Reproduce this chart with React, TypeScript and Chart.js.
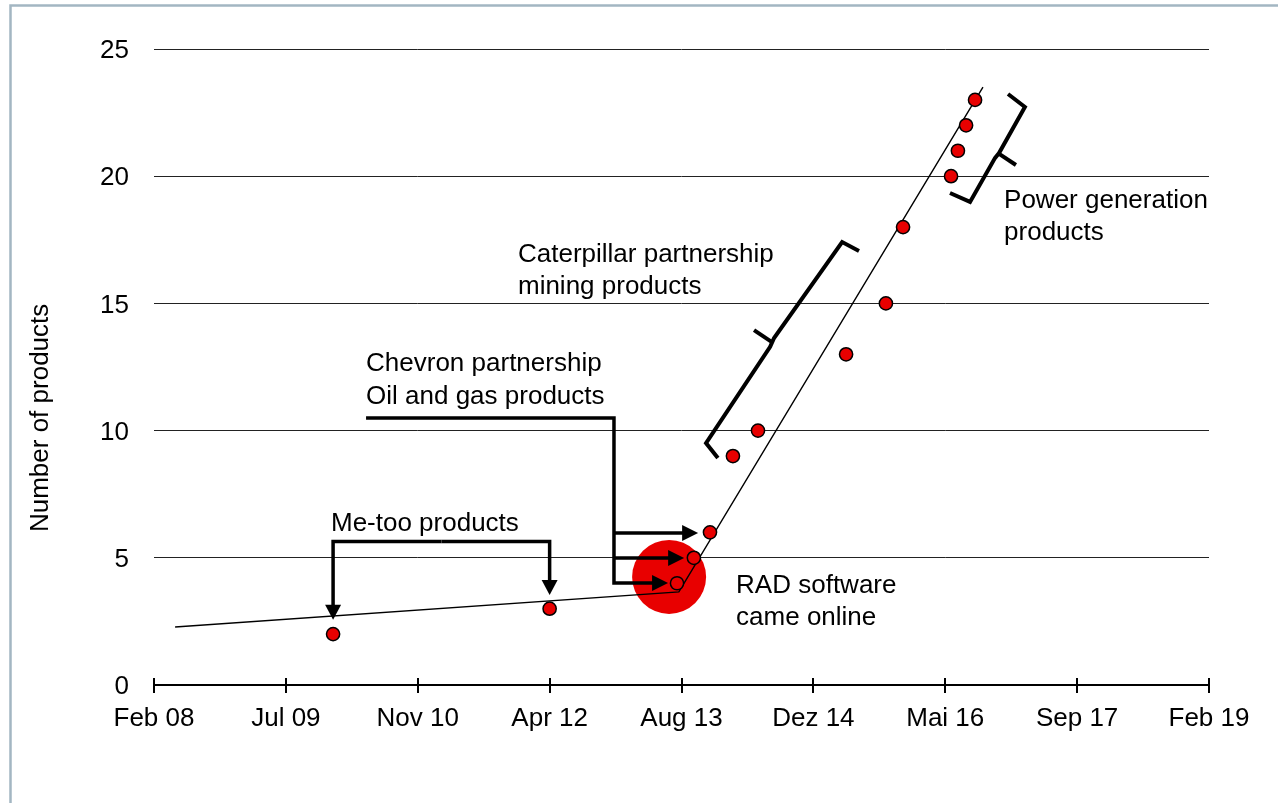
import React, { useEffect, useRef } from "react";
import { Chart, registerables } from "chart.js";

Chart.register(...registerables);

// ---------------- data ----------------
// x values are days after "Feb 08" (one axis step = 500 days)
const xTickLabels = ["Feb 08", "Jul 09", "Nov 10", "Apr 12", "Aug 13", "Dez 14", "Mai 16", "Sep 17", "Feb 19"];
const productDays = [679, 1500, 1983, 2047, 2108, 2195, 2290, 2624, 2775, 2840, 3022, 3048, 3079, 3113];
const productCounts = [2, 3, 4, 5, 6, 9, 10, 13, 15, 18, 20, 21, 22, 23];
const trendDays = [80, 1990, 3143];
const trendCounts = [2.28, 3.66, 23.5];
const radLaunchDays = [1953];
const radLaunchCounts = [4.25];
const yAxisTitle = "Number of products";

const FAMILY = '"Liberation Sans", Arial, Helvetica, sans-serif';
const FONT_PX = 26;
const RED = "rgb(232,0,0)";

type P2 = [number, number];

const annotationPlugin = {
  id: "annotations",
  beforeDraw(chart: any) {
    const { ctx } = chart;
    ctx.save();
    ctx.fillStyle = "#fff";
    ctx.fillRect(0, 0, chart.width, chart.height);
    ctx.strokeStyle = "#a3b6c2";
    ctx.lineWidth = 2.5;
    ctx.strokeRect(10.5, 5.5, chart.width + 50, chart.height + 50);
    ctx.restore();
  },
  afterDraw(chart: any) {
    const { ctx, chartArea } = chart;
    const xs = chart.scales.x;
    const ys = chart.scales.y;
    const P = (p: P2): P2 => [xs.getPixelForValue(p[0]), ys.getPixelForValue(p[1])];

    ctx.save();
    // upper half of x-axis tick crosses
    ctx.strokeStyle = "#000";
    ctx.lineWidth = 2;
    xs.ticks.forEach((t: any) => {
      const px = Math.round(xs.getPixelForValue(t.value));
      ctx.beginPath();
      ctx.moveTo(px, chartArea.bottom - 7);
      ctx.lineTo(px, chartArea.bottom);
      ctx.stroke();
    });

    // y axis title
    ctx.fillStyle = "#000";
    ctx.font = `${FONT_PX}px ${FAMILY}`;
    ctx.save();
    ctx.translate(chartArea.left - 113, ys.getPixelForValue(10.5));
    ctx.rotate(-Math.PI / 2);
    ctx.textAlign = "center";
    ctx.textBaseline = "middle";
    ctx.fillText(yAxisTitle, 0, 0);
    ctx.restore();

    ctx.lineJoin = "miter";
    ctx.lineCap = "butt";

    const poly = (pts: P2[], width: number) => {
      ctx.lineWidth = width;
      ctx.beginPath();
      pts.map(P).forEach(([a, b], i) => (i ? ctx.lineTo(a, b) : ctx.moveTo(a, b)));
      ctx.stroke();
    };

    const arrow = (pts: P2[], headLen = 15, headHalf = 8) => {
      const px = pts.map(P);
      const tip = px[px.length - 1];
      const prev = px[px.length - 2];
      const dx = tip[0] - prev[0];
      const dy = tip[1] - prev[1];
      const len = Math.hypot(dx, dy);
      const ux = dx / len;
      const uy = dy / len;
      const base: P2 = [tip[0] - ux * headLen, tip[1] - uy * headLen];
      ctx.lineWidth = 3.5;
      ctx.beginPath();
      px.slice(0, -1).forEach(([a, b], i) => (i ? ctx.lineTo(a, b) : ctx.moveTo(a, b)));
      ctx.lineTo(base[0] + ux, base[1] + uy);
      ctx.stroke();
      ctx.beginPath();
      ctx.moveTo(tip[0], tip[1]);
      ctx.lineTo(base[0] - uy * headHalf, base[1] + ux * headHalf);
      ctx.lineTo(base[0] + uy * headHalf, base[1] - ux * headHalf);
      ctx.closePath();
      ctx.fill();
    };

    // Me-too products bracket
    arrow([[1090, 5.64], [679, 5.64], [679, 2.56]]);
    arrow([[1090, 5.64], [1500, 5.64], [1500, 3.54]]);

    // Chevron arrows
    arrow([[804, 10.5], [1744, 10.5], [1744, 4.01], [1949, 4.01]], 16, 8);
    arrow([[1744, 5.97], [2063, 5.97]], 16, 8);
    arrow([[1744, 4.99], [2010, 4.99]], 16, 8);

    // Caterpillar brace
    poly([[2673, 17.06], [2609, 17.41], [2351, 13.64], [2336, 13.29], [2093, 9.51], [2138, 8.92]], 4);
    poly([[2275, 13.95], [2343, 13.48]], 4);

    // Power generation brace
    poly([[3238, 23.23], [3302, 22.72], [3204, 20.91], [3189, 20.72], [3094, 18.99], [3018, 19.34]], 4);
    poly([[3200, 20.91], [3268, 20.44]], 4);

    // annotation texts
    ctx.textAlign = "left";
    ctx.textBaseline = "middle";
    const text = (s: string, p: P2) => {
      const [a, b] = P(p);
      ctx.fillText(s, a, b + 2);
    };
    text("Me-too products", [671, 6.41]);
    text("Chevron partnership", [804, 12.7]);
    text("Oil and gas products", [804, 11.4]);
    text("Caterpillar partnership", [1380, 16.98]);
    text("mining products", [1380, 15.72]);
    text("Power generation", [3223, 19.1]);
    text("products", [3223, 17.85]);
    text("RAD software", [2207, 3.97]);
    text("came online", [2207, 2.71]);

    ctx.restore();
  },
};

export default function App() {
  const canvasRef = useRef<HTMLCanvasElement | null>(null);

  useEffect(() => {
    if (!canvasRef.current) return;
    const font = { family: FAMILY, size: FONT_PX };
    const chart = new Chart(canvasRef.current, {
      type: "scatter",
      data: {
        datasets: [
          {
            label: "RAD software came online",
            data: radLaunchDays.map((x, i) => ({ x, y: radLaunchCounts[i] })),
            pointRadius: 37,
            pointBackgroundColor: RED,
            pointBorderWidth: 0,
            backgroundColor: RED,
            borderWidth: 0,
            order: 3,
          },
          {
            label: "Trend",
            data: trendDays.map((x, i) => ({ x, y: trendCounts[i] })),
            showLine: true,
            pointRadius: 0,
            borderColor: "#000",
            borderWidth: 1.4,
            order: 2,
          },
          {
            label: "Products",
            data: productDays.map((x, i) => ({ x, y: productCounts[i] })),
            pointRadius: 6.6,
            pointBackgroundColor: RED,
            pointBorderColor: "#000",
            pointBorderWidth: 1.5,
            backgroundColor: RED,
            borderColor: "#000",
            order: 1,
          },
        ],
      },
      options: {
        responsive: false,
        devicePixelRatio: 1,
        animation: false,
        events: [],
        layout: { padding: { top: 49, right: 69, left: 0, bottom: 0 } },
        plugins: {
          legend: { display: false },
          tooltip: { enabled: false },
          title: { display: false },
        },
        scales: {
          x: {
            type: "linear",
            min: 0,
            max: 4000,
            afterFit: (s: any) => {
              s.height = 118;
            },
            ticks: {
              stepSize: 500,
              autoSkip: false,
              maxRotation: 0,
              padding: 10,
              color: "#000",
              font,
              callback: (v: any) => xTickLabels[Math.round(Number(v) / 500)] ?? "",
            },
            grid: {
              drawOnChartArea: false,
              drawTicks: true,
              tickLength: 8,
              color: "#000",
              lineWidth: 2,
            },
            border: { display: true, color: "#000", width: 2 },
          },
          y: {
            min: 0,
            max: 25,
            afterFit: (s: any) => {
              s.width = 154;
            },
            ticks: { stepSize: 5, padding: 25, color: "#000", font, labelOffset: 2 },
            grid: { color: "#222", lineWidth: 1, drawTicks: false },
            border: { display: false },
          },
        },
      },
      plugins: [annotationPlugin],
    } as any);
    return () => chart.destroy();
  }, []);

  return (
    <div style={{ position: "fixed", left: 0, top: 0, width: 1278, height: 803, background: "#fff" }}>
      <canvas ref={canvasRef} width={1278} height={803} style={{ display: "block", width: 1278, height: 803 }} />
    </div>
  );
}
